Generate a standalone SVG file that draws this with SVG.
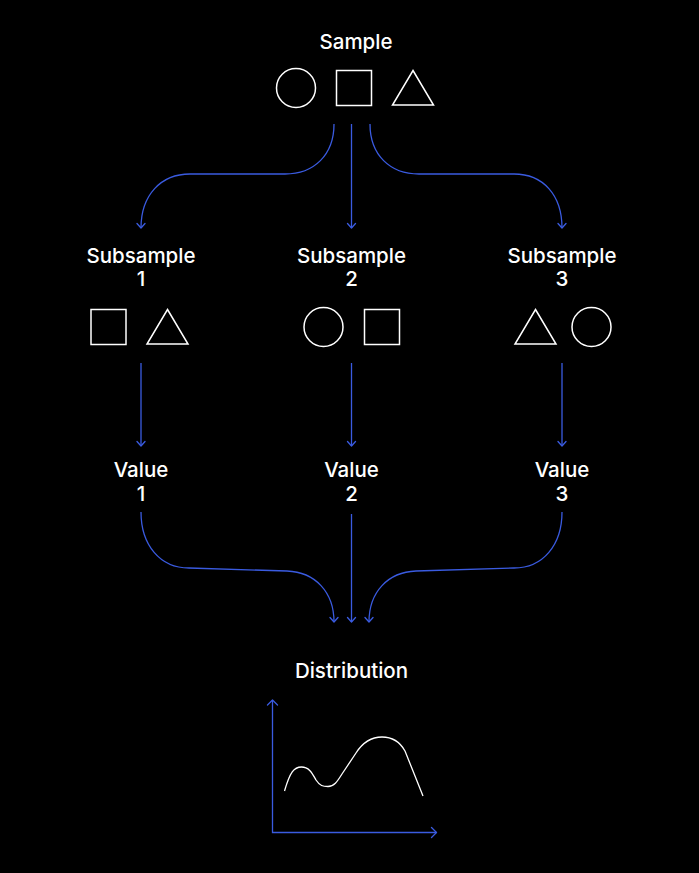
<svg xmlns="http://www.w3.org/2000/svg" width="699" height="873" viewBox="0 0 699 873">
<defs>
<style>
.lbl{font-family:Inter,"Liberation Sans",sans-serif;font-size:20.5px;font-weight:500;fill:#fff;text-anchor:middle}
.shp{fill:none;stroke:#fff;stroke-width:1.5}
.con{fill:none;stroke:#3a5be0;stroke-width:1.3}
.ah{fill:none;stroke:#3a5be0;stroke-width:1.3;stroke-linecap:round;stroke-linejoin:round}
</style>
</defs>
<rect width="699" height="873" fill="#000"/>
<g id="sample">
<text class="lbl" x="356" y="48.5">Sample</text>
<circle class="shp" cx="296" cy="88" r="19.5"/>
<rect class="shp" x="336.5" y="70.5" width="35" height="35"/>
<polygon class="shp" points="413,70.5 433.5,105 392.5,105"/>
</g>
<g id="subsample1">
<text class="lbl" x="141" y="262.5">Subsample</text>
<text class="lbl" x="141" y="286">1</text>
<rect class="shp" x="91" y="309.5" width="35" height="35"/>
<polygon class="shp" points="167.5,309.5 188,344 147,344"/>
</g>
<g id="subsample2">
<text class="lbl" x="351.5" y="262.5">Subsample</text>
<text class="lbl" x="351.5" y="286">2</text>
<circle class="shp" cx="323.5" cy="327" r="19.5"/>
<rect class="shp" x="364.5" y="309.5" width="35" height="35"/>
</g>
<g id="subsample3">
<text class="lbl" x="562" y="262.5">Subsample</text>
<text class="lbl" x="562" y="286">3</text>
<polygon class="shp" points="535.5,309.5 556,344 515,344"/>
<circle class="shp" cx="591.5" cy="327" r="19.5"/>
</g>
<g id="value1">
<text class="lbl" x="141" y="477">Value</text>
<text class="lbl" x="141" y="500.5">1</text>
</g>
<g id="value2">
<text class="lbl" x="351.5" y="477">Value</text>
<text class="lbl" x="351.5" y="500.5">2</text>
</g>
<g id="value3">
<text class="lbl" x="562" y="477">Value</text>
<text class="lbl" x="562" y="500.5">3</text>
</g>
<g id="distribution">
<text class="lbl" x="351.5" y="677.5">Distribution</text>
<path class="con" d="M272.5,700 V832.5 H436.5"/>
<path class="ah" d="M267.5,705 L272.5,700 L277.5,705 M431.5,827.5 L436.5,832.5 L431.5,837.5"/>
<path class="shp" style="stroke-width:1.3" d="M284.5,791 C290,772 294,767 301.5,767 C309,767 312,773 316,780 C320,786 323,786.5 328,786.5 C334,786.5 337,782 342,774 L356,753 C363,742 371,737 382,737 C393,737 400,742 405,751 L423,796"/>
</g>
<g id="connectors">
<path class="con" d="M334,124 C334,155 314,174 285,174 L190,174 C161,174 141,195 141,228"/>
<path class="con" d="M351.5,124 V228"/>
<path class="con" d="M370,124 C370,155 390,174 419,174 L514,174 C543,174 562,195 562,228"/>
<path class="con" d="M141,363 V446"/>
<path class="con" d="M351.5,363 V446"/>
<path class="con" d="M562,363 V446"/>
<path class="con" d="M141,512 C141,545 160,568 189,568 L287,571 C315,572 334,592 334,622"/>
<path class="con" d="M351.5,514 V622"/>
<path class="con" d="M562,512 C562,545 543,568 514,568 L416,571 C388,572 369,592 369,622"/>
<path class="ah" d="M137,223.5 L141,228 L145,223.5 M347.5,223.5 L351.5,228 L355.5,223.5 M558,223.5 L562,228 L566,223.5 M137,441.5 L141,446 L145,441.5 M347.5,441.5 L351.5,446 L355.5,441.5 M558,441.5 L562,446 L566,441.5 M330,617.5 L334,622 L338,617.5 M347.5,617.5 L351.5,622 L355.5,617.5 M365,617.5 L369,622 L373,617.5"/>
</g>
</svg>
